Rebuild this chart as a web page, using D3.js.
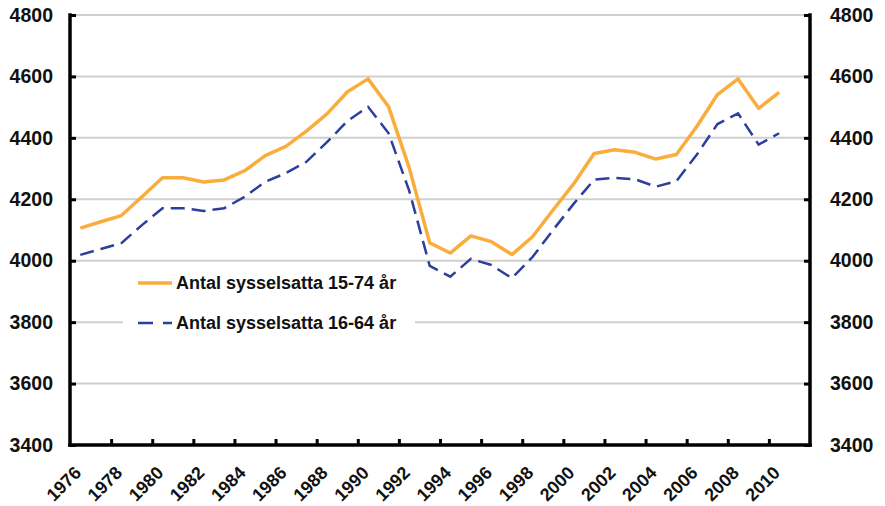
<!DOCTYPE html>
<html>
<head>
<meta charset="utf-8">
<script src="https://cdn.jsdelivr.net/npm/d3@7"></script>
<style>
  body { margin: 0; background: #fff; }
  text { font-family: "Liberation Sans", Arial, sans-serif; font-weight: bold; fill: #111; }
</style>
</head>
<body>
<div id="chart"></div>
<script>
// data (thousands of employed persons)
const years = d3.range(1976, 2011);
const employed1574 = [4106, 4127, 4147, 4208, 4270, 4270, 4256, 4263, 4293, 4342,
  4372, 4422, 4478, 4550, 4592, 4501, 4303, 4058, 4025, 4081,
  4062, 4020, 4078, 4165, 4250, 4349, 4361, 4353, 4331, 4346,
  4438, 4541, 4592, 4496, 4548];
const employed1664 = [4019, 4038, 4057, 4116, 4171, 4171, 4162, 4171, 4208, 4257,
  4285, 4322, 4386, 4455, 4501, 4415, 4228, 3983, 3948, 4006,
  3986, 3943, 4012, 4100, 4185, 4264, 4270, 4265, 4241, 4259,
  4346, 4445, 4480, 4378, 4415];
const yTicks = [3400, 3600, 3800, 4000, 4200, 4400, 4600, 4800];
const labelYears = d3.range(1976, 2011, 2);
const seriesNames = ["Antal sysselsatta 15-74 år", "Antal sysselsatta 16-64 år"];

const W = 885, H = 506;
const plot = {left: 70, right: 810, top: 15, bottom: 445};

const svg = d3.select("#chart").append("svg")
  .attr("width", W).attr("height", H);

// category axis: one slot per year, 1976..2011, points in the middle
const x = d3.scaleLinear().domain([1975.5, 2011.5]).range([plot.left, plot.right]);
const y = d3.scaleLinear().domain([3400, 4800]).range([plot.bottom, plot.top]);

// gridlines
svg.append("g").selectAll("line")
  .data(yTicks.filter(d => d > 3400))
  .enter().append("line")
  .attr("x1", plot.left).attr("x2", plot.right)
  .attr("y1", d => y(d)).attr("y2", d => y(d))
  .attr("stroke", "#cfcfcf").attr("stroke-width", 2);

// legend box (hides the gridline behind it)
const legend = svg.append("g");
legend.append("rect")
  .attr("x", 123).attr("y", 266).attr("width", 292).attr("height", 74)
  .attr("fill", "#fff");

// lines
const line = d3.line().x((d, i) => x(years[i])).y(d => y(d));
svg.append("path").datum(employed1664)
  .attr("d", line)
  .attr("fill", "none").attr("stroke", "#2d3f9d")
  .attr("stroke-width", 2.5).attr("stroke-dasharray", "14,7");
svg.append("path").datum(employed1574)
  .attr("d", line)
  .attr("fill", "none").attr("stroke", "#f9ad3d")
  .attr("stroke-width", 3.5).attr("stroke-linejoin", "round");

// axes: labels and tick marks from d3 axes, frame lines drawn after
const yLeft = d3.axisLeft(y).tickValues(yTicks).tickFormat(d3.format("d"))
  .tickSize(-6).tickPadding(17);
const yRight = d3.axisRight(y).tickValues(yTicks).tickFormat(d3.format("d"))
  .tickSize(-6).tickPadding(20);
const xAxis = d3.axisBottom(x)
  .tickValues(d3.range(1977.5, 2011, 2))
  .tickSize(-6).tickFormat("");

const axes = [
  svg.append("g").attr("transform", `translate(${plot.left},0)`).call(yLeft),
  svg.append("g").attr("transform", `translate(${plot.right},0)`).call(yRight),
  svg.append("g").attr("transform", `translate(0,${plot.bottom})`).call(xAxis)
];
axes.forEach(g => {
  g.select(".domain").remove();
  g.selectAll(".tick line").attr("stroke", "#000").attr("stroke-width", 3);
  g.selectAll("text").style("font-size", "19.5px");
});

// axis lines
const frame = svg.append("g").attr("stroke", "#000").attr("stroke-width", 3.5)
  .attr("stroke-linecap", "square");
frame.append("line").attr("x1", x.range()[0]).attr("x2", x.range()[0])
  .attr("y1", y.range()[1]).attr("y2", y.range()[0]);
frame.append("line").attr("x1", x.range()[1]).attr("x2", x.range()[1])
  .attr("y1", y.range()[1]).attr("y2", y.range()[0]);
frame.append("line").attr("x1", x.range()[0]).attr("x2", x.range()[1])
  .attr("y1", y.range()[0]).attr("y2", y.range()[0]);

// rotated year labels
svg.append("g").selectAll("text")
  .data(labelYears)
  .enter().append("text")
  .attr("transform", d => `translate(${x(d) + 2},${plot.bottom + 29}) rotate(-45)`)
  .attr("text-anchor", "end")
  .style("font-size", "18px")
  .text(d => d);

// legend entries
const legendRows = [
  {name: seriesNames[0], color: "#f9ad3d", width: 3.5, dash: null, y: 283},
  {name: seriesNames[1], color: "#2d3f9d", width: 2.5, dash: "15,10", y: 323}
];
legendRows.forEach(r => {
  legend.append("line")
    .attr("x1", 138).attr("x2", 172).attr("y1", r.y).attr("y2", r.y)
    .attr("stroke", r.color).attr("stroke-width", r.width)
    .attr("stroke-dasharray", r.dash);
  legend.append("text")
    .attr("x", 176).attr("y", r.y + 6)
    .style("font-size", "18px")
    .text(r.name);
});
</script>
</body>
</html>
